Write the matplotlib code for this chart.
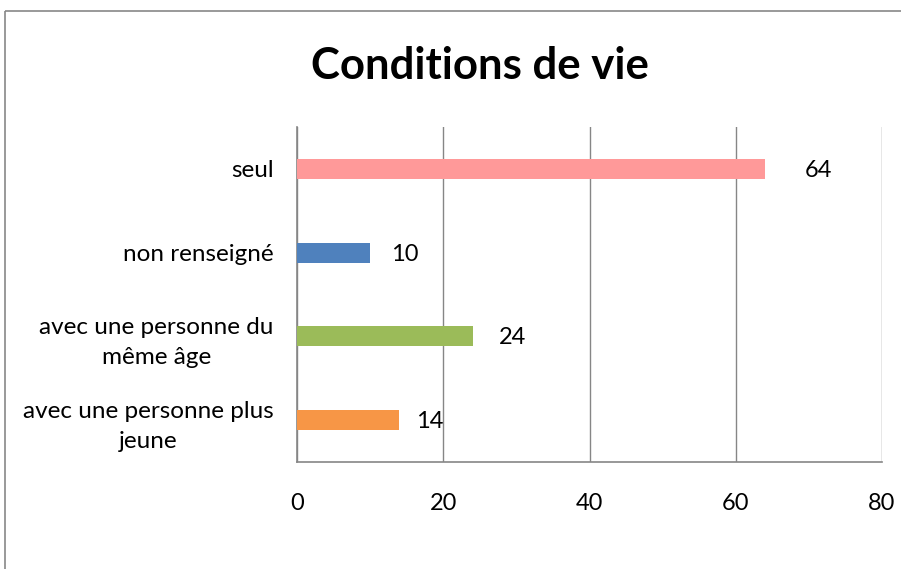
import matplotlib
matplotlib.use("Agg")
import matplotlib.pyplot as plt
from matplotlib.patches import Rectangle

categories = ["avec une personne plus\njeune", "avec une personne du\nmême âge", "non renseigné", "seul"]
values = [14, 24, 10, 64]
colors = ["#F79646", "#9BBB59", "#4F81BD", "#FF9999"]
xticks = [0, 20, 40, 60, 80]
title = "Conditions de vie"
label_offsets_px = [17, 26, 21, 40]

plt.rcParams['font.family'] = ['Lato', 'DejaVu Sans']

W, H = 901, 569
fig = plt.figure(figsize=(W / 100, H / 100), dpi=100)
fig.patch.set_facecolor("white")

# outer chart border
fig.add_artist(Rectangle((5 / W, 1 - 11 / H), 2, -1, transform=fig.transFigure,
                         fill=False, edgecolor="#888888", linewidth=1.2))

ax = fig.add_axes([297 / W, 1 - 462 / H, (882 - 297) / W, (462 - 127) / H])
ypos = list(range(len(categories)))
ax.barh(ypos, values, height=0.24, color=colors, zorder=3)
ax.set_xlim(0, 80)
ax.set_ylim(-0.5, len(categories) - 0.5)
ax.set_xticks(xticks)
ax.set_xticklabels([str(t) for t in xticks], fontsize=17)
ax.set_yticks(ypos)
ax.set_yticklabels(categories, fontsize=17.5, linespacing=1.5)
ax.tick_params(axis="both", length=0, colors="black")
ax.tick_params(axis="x", pad=22)
ax.tick_params(axis="y", pad=17)
for lbl in ax.get_yticklabels():
    lbl.set_multialignment("center")
ax.xaxis.grid(True, color="#868686", linewidth=1, zorder=0)
ax.yaxis.grid(False)
for s in ["left", "bottom"]:
    ax.spines[s].set_color("#868686")
    ax.spines[s].set_linewidth(1.2)
for s in ["top", "right"]:
    ax.spines[s].set_visible(False)

for y, v, off in zip(ypos, values, label_offsets_px):
    ax.annotate(str(v), xy=(v, y), xytext=(off * 0.72, -1), textcoords="offset points",
                va="center", ha="left", fontsize=17)

fig.text(480 / W, 1 - 66 / H, title, ha="center", va="center", fontsize=31.5, fontweight="bold")

fig.savefig("out.png", dpi=100)
